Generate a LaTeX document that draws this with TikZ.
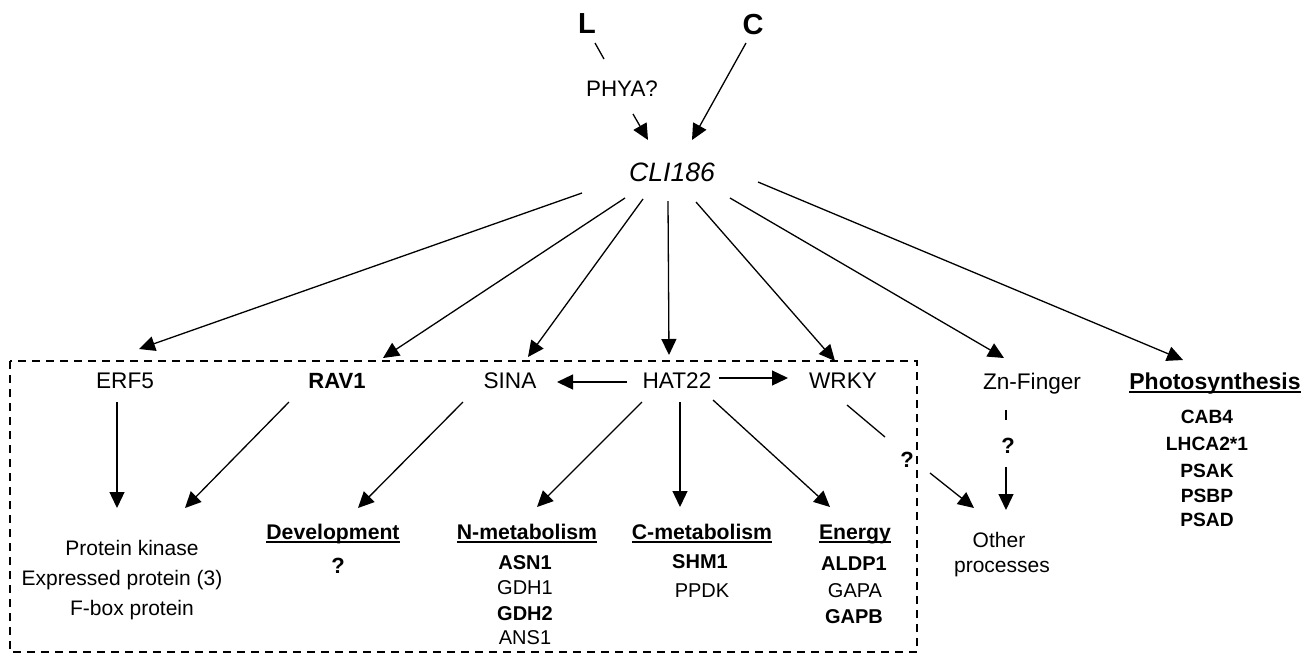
\documentclass[tikz,border=0pt]{standalone}
\usepackage{fontspec}
\setmainfont{Liberation Sans}
\usetikzlibrary{arrows.meta,calc}
\newsavebox\ulbox
\newcommand{\myul}[1]{\sbox\ulbox{#1}\rlap{\rule[-2pt]{\wd\ulbox}{1pt}}\usebox\ulbox}
\begin{document}
\begin{tikzpicture}[x=0.5pt,y=-0.5pt,
  t/.style={anchor=base,inner sep=0pt,font=\fontsize{#1}{#1}\selectfont},
  tb/.style={anchor=base,inner sep=0pt,font=\fontsize{#1}{#1}\selectfont\bfseries},
  arr/.style={-{Triangle[length=8pt,width=7.5pt]},line width=0.65pt},
  ln/.style={line width=0.65pt},
  frame/.style={line width=0.75pt,dash pattern=on 4pt off 3pt}]
\useasboundingbox (0,0) rectangle (1313,654);

% top
\node[tb=14.5] (L) at (587,33) {L};
\node[tb=14.5] (C) at (753,34) {C};
\node[t=11.2] (phya) at (622,96) {PHYA?};
\node[t=13.3] (cli) at (672,181) {\itshape CLI186};

% row 2
\node[t=11.3] (erf) at (125,388) {ERF5};
\node[tb=11] (rav) at (337,388) {RAV1};
\node[t=11.3] (sina) at (510,388) {SINA};
\node[t=11.3] (hat) at (677,388) {HAT22};
\node[t=11.3] (wrky) at (843,388) {WRKY};
\node[t=11.3] (zn) at (1032,389) {Zn-Finger};
\node[tb=11.5] (photo) at (1215,389) {\myul{Photosynthesis}};

% photosynthesis list
\node[tb=9.6] (cab) at (1207,423) {CAB4};
\node[tb=9.6] (lhca) at (1207,450) {LHCA2*1};
\node[tb=9.6] (psak) at (1207,477) {PSAK};
\node[tb=9.6] (psbp) at (1207,502) {PSBP};
\node[tb=9.6] (psad) at (1207,526) {PSAD};

% proteins
\node[t=10.5] (pk) at (132,555) {Protein kinase};
\node[t=10.5] (ep) at (122,585) {Expressed protein (3)};
\node[t=10.5] (fb) at (132,615) {F-box protein};

% development
\node[tb=10.6] (dev) at (333,539) {\myul{Development}};
\node[tb=11] (devq) at (338,573) {?};

% N-metabolism
\node[tb=10.6] (nmet) at (527,539) {\myul{N-metabolism}};
\node[tb=10] (asn1) at (525,569) {ASN1};
\node[t=10] (gdh1) at (525,594) {GDH1};
\node[tb=10] (gdh2) at (525,620) {GDH2};
\node[t=10] (ans1) at (525,644) {ANS1};

% C-metabolism
\node[tb=10.6] (cmet) at (702,539) {\myul{C-metabolism}};
\node[tb=10] (shm1) at (700,568) {SHM1};
\node[t=10] (ppdk) at (702,597) {PPDK};

% Energy
\node[tb=10.6] (energy) at (855,539) {\myul{Energy}};
\node[tb=10] (aldp1) at (854,570) {ALDP1};
\node[t=10] (gapa) at (855,597) {GAPA};
\node[tb=10] (gapb) at (854,623) {GAPB};

% other processes
\node[t=10.5] (other) at (999,547) {Other};
\node[t=10.5] (proc) at (1002,572) {processes};
\node[tb=11] (q1) at (907,467) {?};
\node[tb=11] (q2) at (1008,453) {?};

% dashed frame
\draw[frame] (10,361) rectangle (917,652);

% top connectors
\draw[ln] ($(L.base)+(8,10)$) -- ($(phya.base)+(-18,-37)$);
\draw[arr] ($(phya.base)+(11,18)$) -- ($(cli.base)+(-24,-41)$);
\draw[arr] ($(C.base)+(-7,9)$) -- ($(cli.base)+(20,-41)$);

% from CLI186
\draw[arr] ($(cli.base)+(-90,12)$) -- ($(erf.base)+(14,-39)$);
\draw[arr] ($(cli.base)+(-47,17)$) -- ($(rav.base)+(46,-30)$);
\draw[arr] ($(cli.base)+(-29,18)$) -- ($(sina.base)+(18,-31)$);
\draw[arr] ($(cli.base)+(-4,20)$) -- ($(hat.base)+(-8,-33)$);
\draw[arr] ($(cli.base)+(24,21)$) -- ($(wrky.base)+(-8,-27)$);
\draw[arr] ($(cli.base)+(58,17)$) -- ($(zn.base)+(-28,-31)$);
\draw[arr] ($(cli.base)+(86,1)$) -- ($(photo.base)+(-32,-29)$);

% row 2 internal
\draw[arr] ($(hat.base)+(-50,-6)$) -- ($(sina.base)+(47,-6)$);
\draw[arr] ($(hat.base)+(42,-10)$) -- ($(wrky.base)+(-55,-10)$);

% down
\draw[arr] ($(erf.base)+(-8,14)$) -- ($(pk.base)+(-15,-47)$);
\draw[arr] ($(rav.base)+(-48,14)$) -- ($(pk.base)+(53,-47)$);
\draw[arr] ($(sina.base)+(-47,14)$) -- ($(dev.base)+(25,-31)$);
\draw[arr] ($(hat.base)+(-35,14)$) -- ($(nmet.base)+(10,-32)$);
\draw[arr] ($(hat.base)+(3,14)$) -- ($(cmet.base)+(-22,-32)$);
\draw[arr] ($(hat.base)+(36,12)$) -- ($(energy.base)+(-25,-32)$);
\draw[ln] ($(wrky.base)+(4,17)$) -- ($(q1.base)+(-22,-30)$);
\draw[arr] ($(q1.base)+(23,6)$) -- ($(other.base)+(-25,-39)$);
\draw[ln] ($(zn.base)+(-26,21)$) -- ($(q2.base)+(-2,-33)$);
\draw[arr] ($(q2.base)+(-2,14)$) -- ($(other.base)+(7,-37)$);
\end{tikzpicture}
\end{document}
